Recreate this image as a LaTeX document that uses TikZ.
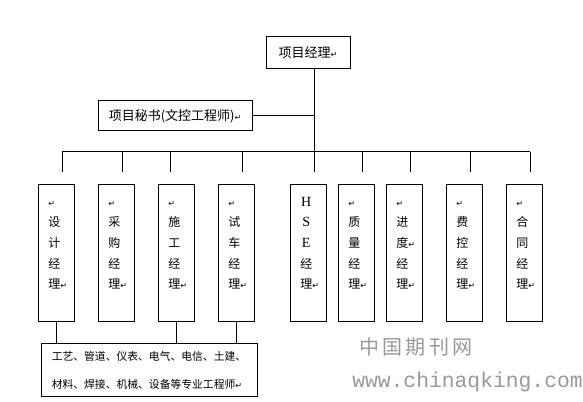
\documentclass[tikz,border=0pt]{standalone}
\usepackage{fontspec}
\setmainfont{Noto Sans CJK SC}
\newfontfamily\symfont{DejaVu Sans}
\newfontfamily\latinserif{Liberation Serif}
\newfontfamily\wmmono{Liberation Mono}
\newcommand{\ret}{{\symfont\fontsize{6}{6}\selectfont ↵}}
\newcommand{\lat}[1]{\makebox[9pt]{\latinserif\fontsize{10.5}{10.5}\selectfont #1}}
\begin{document}
\begin{tikzpicture}[x=0.75pt,y=-0.75pt,
  box/.style={draw, line width=0.75pt, inner sep=0pt},
  colbox/.style={box, minimum width=27pt, minimum height=102.75pt},
  coltext/.style={anchor=west, align=left, inner sep=0pt, font=\fontsize{9}{15.4}\selectfont},
  link/.style={line width=0.75pt},
  wmark/.style={text=black!40}]
\useasboundingbox[fill=white] (0,0) rectangle (583,402);

% top boxes
\node[box, minimum width=63pt, minimum height=24pt, font=\fontsize{9.75}{12}\selectfont] (top) at (308,53) {项目经理\ret};
\node[box, minimum width=115.5pt, minimum height=22.5pt, font=\fontsize{9.75}{12}\selectfont] (sec) at (175,116) {项目秘书(文控工程师)\ret};

% trunk and bus
\coordinate (t) at (314,152);
\draw[link] (top.south -| t) -- (t);
\draw[link] (sec.east) -- (sec.east -| t);
\coordinate (b0) at (62,152);
\coordinate (b9) at (530,152);
\draw[link] (b0) -- (b9);
\foreach \i/\x in {1/62,2/122,3/170,4/242,5/314,6/362,7/410,8/470,9/530}{
  \coordinate (j\i) at (\x,152);
  \draw[link] (j\i) -- ++(0,20);
}

% column boxes
\foreach \n/\x in {c1/56,c2/116,c3/176,c4/236,c5/308,c6/356,c7/404,c8/464,c9/524}{
  \node[colbox] (\n) at (\x,253.5) {};
}

% column texts
\node[coltext] (t1) at (48,243) {\vphantom{理}\ret\\设\\计\\经\\理\ret};
\node[coltext] (t2) at (108,243) {\vphantom{理}\ret\\采\\购\\经\\理\ret};
\node[coltext] (t3) at (168,243) {\vphantom{理}\ret\\施\\工\\经\\理\ret};
\node[coltext] (t4) at (228,243) {\vphantom{理}\ret\\试\\车\\经\\理\ret};
\node[coltext] (t5) at (300,243) {\vphantom{理}\lat{H}\\\lat{S}\\\lat{E}\\经\\理\ret};
\node[coltext] (t6) at (348,243) {\vphantom{理}\ret\\质\\量\\经\\理\ret};
\node[coltext] (t7) at (396,243) {\vphantom{理}\ret\\进\\度\ret\\经\\理\ret};
\node[coltext] (t8) at (456,243) {\vphantom{理}\ret\\费\\控\\经\\理\ret};
\node[coltext] (t9) at (516,243) {\vphantom{理}\ret\\合\\同\\经\\理\ret};

% bottom box
\node[box, minimum width=162pt, minimum height=39.75pt, align=left,
      font=\fontsize{8.1}{21.5}\selectfont] (bot) at (149,370.5)
  {工艺、管道、仪表、电气、电信、土建、\\材料、焊接、机械、设备等专业工程师\ret};
\draw[link] (c1.south) -- (c1.south |- bot.north);
\draw[link] (c3.south) -- (c3.south |- bot.north);
\draw[link] (c4.south) -- (c4.south |- bot.north);

% watermark
\node[wmark, font=\fontsize{15}{15}\selectfont, inner sep=0pt] (wm1) at (416,347) {中\,国\,期\,刊\,网};
\node[wmark, font=\wmmono\fontsize{16}{16}\selectfont, anchor=west, inner sep=0pt] (wm2) at (352,382) {www.chinaqking.com};
\end{tikzpicture}
\end{document}
